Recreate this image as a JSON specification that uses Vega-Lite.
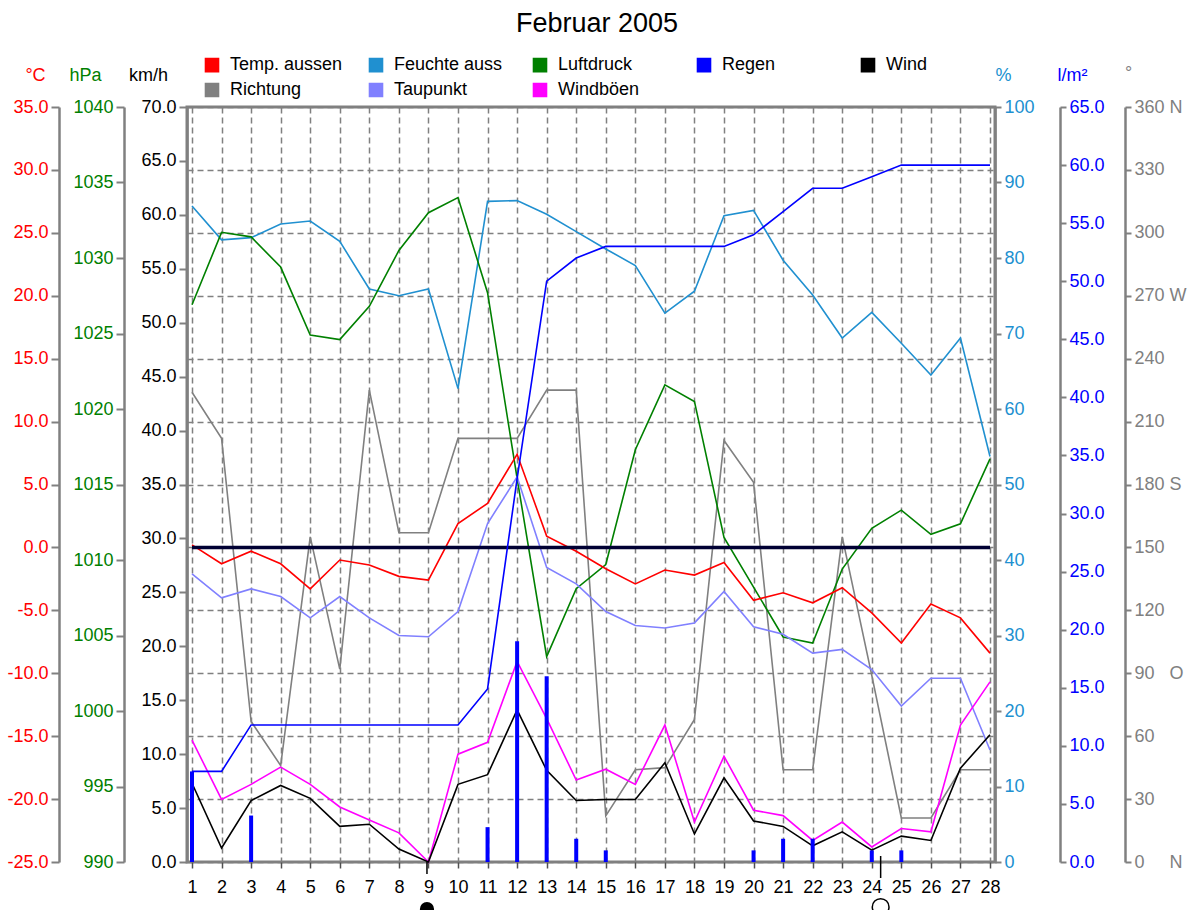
{
  "$schema": "https://vega.github.io/schema/vega-lite/v6.json",
  "width": 808,
  "height": 755,
  "autosize": {"type": "none"},
  "padding": {"left": 187, "top": 107, "right": 199, "bottom": 48},
  "background": "#ffffff",
  "title": {"text": "Februar 2005", "fontSize": 27, "fontWeight": "normal", "font": "Liberation Sans", "color": "#000000", "anchor": "middle", "offset": 18, "dx": 6},
  "datasets": {
    "wx": [
      {"day":1,"temp":0.2,"dew":-2.1,"hum":86.9,"press":1026.9,"wind":7.3,"gust":11.3,"dir":224,"rainsum":7.8,"rain":7.8},
      {"day":2,"temp":-1.3,"dew":-4.0,"hum":82.4,"press":1031.7,"wind":1.3,"gust":5.8,"dir":202,"rainsum":7.8,"rain":0},
      {"day":3,"temp":-0.3,"dew":-3.3,"hum":82.7,"press":1031.4,"wind":5.7,"gust":7.2,"dir":67,"rainsum":11.8,"rain":4.0},
      {"day":4,"temp":-1.3,"dew":-3.9,"hum":84.5,"press":1029.4,"wind":7.1,"gust":8.8,"dir":46,"rainsum":11.8,"rain":0},
      {"day":5,"temp":-3.3,"dew":-5.6,"hum":84.9,"press":1024.9,"wind":5.9,"gust":7.2,"dir":155,"rainsum":11.8,"rain":0},
      {"day":6,"temp":-1.0,"dew":-3.9,"hum":82.2,"press":1024.6,"wind":3.3,"gust":5.1,"dir":92,"rainsum":11.8,"rain":0},
      {"day":7,"temp":-1.4,"dew":-5.6,"hum":75.9,"press":1026.8,"wind":3.5,"gust":3.9,"dir":225,"rainsum":11.8,"rain":0},
      {"day":8,"temp":-2.3,"dew":-7.0,"hum":75.0,"press":1030.5,"wind":1.2,"gust":2.7,"dir":157,"rainsum":11.8,"rain":0},
      {"day":9,"temp":-2.6,"dew":-7.1,"hum":75.9,"press":1033.0,"wind":0.0,"gust":0.0,"dir":157,"rainsum":11.8,"rain":0},
      {"day":10,"temp":1.9,"dew":-5.1,"hum":62.7,"press":1034.0,"wind":7.2,"gust":10.0,"dir":202,"rainsum":11.8,"rain":0},
      {"day":11,"temp":3.5,"dew":1.9,"hum":87.5,"press":1027.7,"wind":8.1,"gust":11.1,"dir":202,"rainsum":14.9,"rain":3.0},
      {"day":12,"temp":7.4,"dew":5.6,"hum":87.6,"press":1015.4,"wind":14.1,"gust":18.6,"dir":202,"rainsum":33.0,"rain":19.0},
      {"day":13,"temp":0.9,"dew":-1.6,"hum":85.8,"press":1003.6,"wind":8.5,"gust":13.3,"dir":225,"rainsum":50.0,"rain":16.0},
      {"day":14,"temp":-0.3,"dew":-2.9,"hum":83.5,"press":1008.1,"wind":5.7,"gust":7.6,"dir":225,"rainsum":52.0,"rain":2.0},
      {"day":15,"temp":-1.7,"dew":-5.1,"hum":81.2,"press":1009.7,"wind":5.8,"gust":8.6,"dir":22,"rainsum":53.0,"rain":1.0},
      {"day":16,"temp":-2.9,"dew":-6.2,"hum":79.0,"press":1017.3,"wind":5.8,"gust":7.2,"dir":44,"rainsum":53.0,"rain":0},
      {"day":17,"temp":-1.8,"dew":-6.4,"hum":72.7,"press":1021.6,"wind":9.2,"gust":12.7,"dir":45,"rainsum":53.0,"rain":0},
      {"day":18,"temp":-2.2,"dew":-6.0,"hum":75.6,"press":1020.5,"wind":2.6,"gust":3.7,"dir":68,"rainsum":53.0,"rain":0},
      {"day":19,"temp":-1.2,"dew":-3.5,"hum":85.6,"press":1011.5,"wind":7.8,"gust":9.8,"dir":201,"rainsum":53.0,"rain":0},
      {"day":20,"temp":-4.2,"dew":-6.3,"hum":86.3,"press":1008.2,"wind":3.8,"gust":4.8,"dir":181,"rainsum":54.0,"rain":1.0},
      {"day":21,"temp":-3.6,"dew":-6.9,"hum":79.7,"press":1004.9,"wind":3.3,"gust":4.3,"dir":44,"rainsum":56.0,"rain":2.0},
      {"day":22,"temp":-4.4,"dew":-8.4,"hum":75.1,"press":1004.5,"wind":1.5,"gust":2.0,"dir":44,"rainsum":58.0,"rain":2.0},
      {"day":23,"temp":-3.2,"dew":-8.1,"hum":69.4,"press":1009.4,"wind":2.8,"gust":3.7,"dir":155,"rainsum":58.0,"rain":0},
      {"day":24,"temp":-5.2,"dew":-9.7,"hum":72.8,"press":1012.1,"wind":1.1,"gust":1.4,"dir":89,"rainsum":59.0,"rain":1.0},
      {"day":25,"temp":-7.6,"dew":-12.6,"hum":68.7,"press":1013.3,"wind":2.4,"gust":3.1,"dir":21,"rainsum":60.0,"rain":1.0},
      {"day":26,"temp":-4.5,"dew":-10.4,"hum":64.5,"press":1011.7,"wind":2.0,"gust":2.8,"dir":21,"rainsum":60.0,"rain":0},
      {"day":27,"temp":-5.6,"dew":-10.4,"hum":69.4,"press":1012.4,"wind":8.7,"gust":12.7,"dir":44,"rainsum":60.0,"rain":0},
      {"day":28,"temp":-8.4,"dew":-16.1,"hum":53.7,"press":1016.7,"wind":11.8,"gust":16.7,"dir":44,"rainsum":60.0,"rain":0}
    ],
    "moon": [
      {"day": 8.95, "phase": "Neumond"},
      {"day": 24.3, "phase": "Vollmond"}
    ]
  },
  "data": {"name": "wx"},
  "encoding": {
    "x": {
      "field": "day", "type": "quantitative",
      "scale": {"domain": [1, 28], "nice": false, "zero": false},
      "axis": {
        "values": [1,2,3,4,5,6,7,8,9,10,11,12,13,14,15,16,17,18,19,20,21,22,23,24,25,26,27,28],
        "format": "d", "title": null, "grid": true, "gridColor": "#808080", "gridDash": [6, 4], "gridWidth": 1.5,
        "domain": false, "ticks": true, "tickColor": "#505050", "tickSize": 6, "tickWidth": 1.5,
        "labelFontSize": 18, "labelColor": "#000000", "labelPadding": 10, "labelOverlap": false, "labelFlush": false
      }
    }
  },
  "layer": [
    {
      "mark": {"type": "line", "strokeWidth": 1.6},
      "encoding": {
        "y": {
          "field": "dir", "type": "quantitative",
          "scale": {"domain": [0, 360], "nice": false, "zero": false},
          "axis": {
            "orient": "right", "offset": 130, "grid": false,
            "values": [0,30,60,90,120,150,180,210,240,270,300,330,360],
            "labelExpr": "datum.value == 360 ? '360 N' : datum.value == 270 ? '270 W' : datum.value == 180 ? '180 S' : datum.value == 90 ? '90\u00a0\u00a0\u00a0O' : datum.value == 0 ? '0\u00a0\u00a0\u00a0\u00a0\u00a0N' : datum.label",
            "title": "°", "titleColor": "#808080", "titleAngle": 0, "titleAlign": "center", "titleBaseline": "middle", "titleX": 3, "titleY": -34,
            "labelColor": "#808080", "tickSize": 6
          }
        },
        "color": {
          "datum": "Richtung", "type": "nominal",
          "scale": {
            "domain": ["Temp. aussen", "Feuchte auss", "Luftdruck", "Regen", "Wind", "Richtung", "Taupunkt", "Windböen"],
            "range": ["#ff0000", "#2090d0", "#008000", "#0000ff", "#000000", "#808080", "#8080ff", "#ff00ff"]
          },
          "legend": {
            "orient": "none", "legendX": 16, "legendY": -51, "direction": "horizontal", "columns": 5,
            "title": null, "symbolType": "square", "symbolSize": 169, "symbolStrokeWidth": 2,
            "labelFontSize": 18, "labelOffset": 9, "columnPadding": 23, "rowPadding": 5, "gridAlign": "all", "labelLimit": 0,
            "encode": {
              "symbols": {
                "fill": {"value": {"expr": "scale('color', datum.value)"}},
                "stroke": {"value": "#303030"},
                "strokeWidth": {"value": 2},
                "opacity": {"value": 1}
              },
              "labels": {
                "fill": {"value": {"expr": "datum.label == 'Temp. aussen' || datum.label == 'Taupunkt' ? '#ff0000' : datum.label == 'Feuchte auss' ? '#2090d0' : datum.label == 'Luftdruck' ? '#008000' : datum.label == 'Regen' ? '#0000ff' : datum.label == 'Richtung' ? '#808080' : '#000000'"}}
              }
            }
          }
        }
      }
    },
    {
      "mark": {"type": "line", "strokeWidth": 1.6},
      "encoding": {
        "y": {
          "field": "hum", "type": "quantitative",
          "scale": {"domain": [0, 100], "nice": false, "zero": false},
          "axis": {
            "orient": "right", "offset": 0, "grid": false,
            "values": [0,10,20,30,40,50,60,70,80,90,100], "format": "d",
            "title": "%", "titleColor": "#2090d0", "titleAngle": 0, "titleAlign": "center", "titleBaseline": "middle", "titleX": 8, "titleY": -32,
            "labelColor": "#2090d0", "tickSize": 6
          }
        },
        "color": {"datum": "Feuchte auss", "type": "nominal"}
      }
    },
    {
      "mark": {"type": "line", "strokeWidth": 1.6},
      "encoding": {
        "y": {
          "field": "press", "type": "quantitative",
          "scale": {"domain": [990, 1040], "nice": false, "zero": false},
          "axis": {
            "orient": "left", "offset": 63, "grid": false,
            "values": [990,995,1000,1005,1010,1015,1020,1025,1030,1035,1040], "format": "d",
            "title": "hPa", "titleColor": "#008000", "titleAngle": 0, "titleAlign": "center", "titleBaseline": "middle", "titleX": -39, "titleY": -32,
            "labelColor": "#008000"
          }
        },
        "color": {"datum": "Luftdruck", "type": "nominal"}
      }
    },
    {
      "mark": {"type": "line", "strokeWidth": 1.6},
      "encoding": {
        "y": {
          "field": "dew", "type": "quantitative",
          "scale": {"domain": [-25, 35], "nice": false, "zero": false},
          "axis": {
            "orient": "left", "offset": 128,
            "values": [-25,-20,-15,-10,-5,0,5,10,15,20,25,30,35], "format": ".1f",
            "labelExpr": "replace(datum.label, '\u2212', '-')",
            "title": "°C", "titleColor": "#ff0000", "titleAngle": 0, "titleAlign": "center", "titleBaseline": "middle", "titleX": -24, "titleY": -32,
            "labelColor": "#ff0000",
            "grid": true, "gridColor": "#808080", "gridDash": [6, 4], "gridWidth": 1.5
          }
        },
        "color": {"datum": "Taupunkt", "type": "nominal"}
      }
    },
    {
      "mark": {"type": "line", "strokeWidth": 1.6},
      "encoding": {
        "y": {"field": "temp", "type": "quantitative", "scale": {"domain": [-25, 35], "nice": false, "zero": false}, "axis": null},
        "color": {"datum": "Temp. aussen", "type": "nominal"}
      }
    },
    {
      "mark": {"type": "line", "color": "#000033", "strokeWidth": 3.5},
      "encoding": {
        "y": {"datum": 0, "type": "quantitative", "scale": {"domain": [-25, 35], "nice": false, "zero": false}, "axis": null}
      }
    },
    {
      "mark": {"type": "line", "strokeWidth": 1.6},
      "encoding": {
        "y": {
          "field": "gust", "type": "quantitative",
          "scale": {"domain": [0, 70], "nice": false, "zero": false},
          "axis": {
            "orient": "left", "offset": 0, "grid": false,
            "values": [0,5,10,15,20,25,30,35,40,45,50,55,60,65,70], "format": ".1f",
            "title": "km/h", "titleColor": "#000000", "titleAngle": 0, "titleAlign": "center", "titleBaseline": "middle", "titleX": -39, "titleY": -32,
            "labelColor": "#000000"
          }
        },
        "color": {"datum": "Windböen", "type": "nominal"}
      }
    },
    {
      "mark": {"type": "line", "strokeWidth": 1.6},
      "encoding": {
        "y": {"field": "wind", "type": "quantitative", "scale": {"domain": [0, 70], "nice": false, "zero": false}, "axis": null},
        "color": {"datum": "Wind", "type": "nominal"}
      }
    },
    {
      "mark": {"type": "bar", "size": 4},
      "encoding": {
        "y": {
          "field": "rain", "type": "quantitative",
          "scale": {"domain": [0, 65], "nice": false, "zero": false},
          "axis": {
            "orient": "right", "offset": 65, "grid": false,
            "values": [0,5,10,15,20,25,30,35,40,45,50,55,60,65], "format": ".1f",
            "title": "l/m²", "titleColor": "#0000ff", "titleAngle": 0, "titleAlign": "center", "titleBaseline": "middle", "titleX": 12, "titleY": -32,
            "labelColor": "#0000ff", "tickSize": 6
          }
        },
        "color": {"datum": "Regen", "type": "nominal"}
      }
    },
    {
      "mark": {"type": "line", "strokeWidth": 1.6},
      "encoding": {
        "y": {"field": "rainsum", "type": "quantitative", "scale": {"domain": [0, 65], "nice": false, "zero": false}, "axis": null},
        "color": {"datum": "Regen", "type": "nominal"}
      }
    },
    {
      "data": {"name": "moon"},
      "transform": [{"filter": "datum.phase == 'Neumond'"}],
      "mark": {"type": "rule", "color": "#000000", "strokeWidth": 1.5, "y": "height", "y2": {"expr": "height + 12"}},
      "encoding": {}
    },
    {
      "data": {"name": "moon"},
      "transform": [{"filter": "datum.phase == 'Neumond'"}],
      "mark": {"type": "point", "shape": "circle", "filled": true, "color": "#000000", "opacity": 1, "size": 200, "y": "height", "yOffset": 47},
      "encoding": {}
    },
    {
      "data": {"name": "moon"},
      "transform": [{"filter": "datum.phase == 'Vollmond'"}],
      "mark": {"type": "rule", "color": "#000000", "strokeWidth": 1.5, "y": {"expr": "height - 6"}, "y2": {"expr": "height + 16"}},
      "encoding": {}
    },
    {
      "data": {"name": "moon"},
      "transform": [{"filter": "datum.phase == 'Vollmond'"}],
      "mark": {"type": "point", "shape": "circle", "filled": false, "color": "#000000", "strokeWidth": 1.5, "opacity": 1, "size": 280, "y": "height", "yOffset": 45},
      "encoding": {}
    }
  ],
  "resolve": {"scale": {"y": "independent"}, "axis": {"y": "independent"}},
  "config": {
    "font": "Liberation Sans",
    "view": {"stroke": "#808080", "strokeWidth": 3},
    "axis": {
      "labelFont": "Liberation Sans", "titleFont": "Liberation Sans",
      "labelFontSize": 18, "titleFontSize": 18, "titleFontWeight": "normal",
      "domainColor": "#808080", "domainWidth": 2.5, "tickColor": "#808080", "tickWidth": 2, "tickSize": 8, "labelPadding": 3
    },
    "legend": {"labelFont": "Liberation Sans", "labelFontSize": 18},
    "line": {"strokeWidth": 1.6}
  }
}
